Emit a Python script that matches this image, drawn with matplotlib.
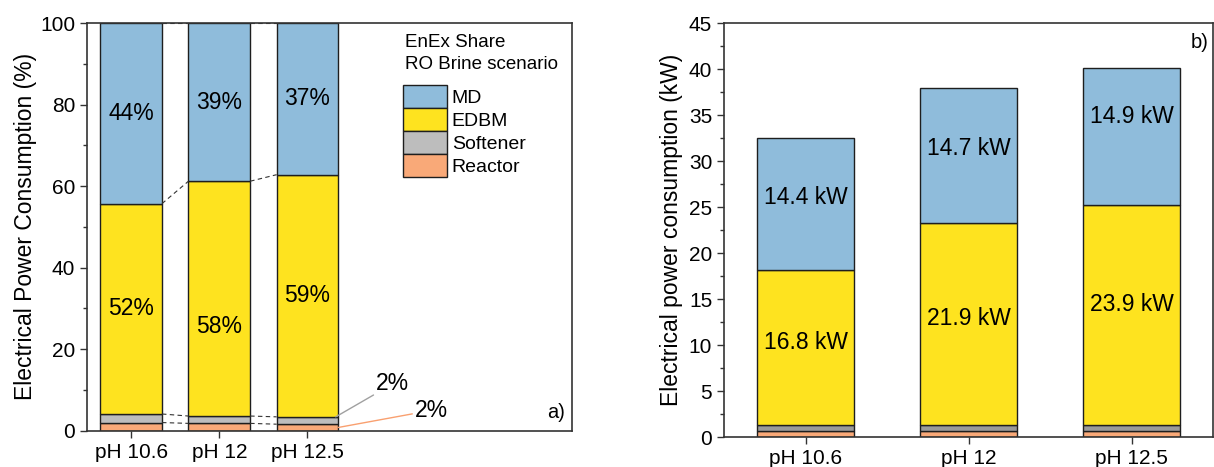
import matplotlib.pyplot as plt
from matplotlib.ticker import MultipleLocator
import numpy as np

plt.rcParams['font.family'] = ['Liberation Sans', 'DejaVu Sans']

categories = ['pH 10.6', 'pH 12', 'pH 12.5']

# EnEx share of each unit (%), RO brine scenario
reactor_pct = [2.0, 1.8, 1.6]
softener_pct = [2.1, 1.8, 1.8]
edbm_pct = [51.6, 57.6, 59.4]
md_pct = [44.3, 38.8, 37.2]

# absolute electrical power (kW)
reactor_kw = [0.65, 0.65, 0.65]
softener_kw = [0.7, 0.7, 0.7]
edbm_kw = [16.8, 21.9, 23.9]
md_kw = [14.4, 14.7, 14.9]

names = ['Reactor', 'Softener', 'EDBM', 'MD']
colors = ['#f9a978', '#bdbdbd', '#fee31f', '#8fbcdb']
colors_kw = ['#f9a978', '#9b9b9b', '#fee31f', '#8fbcdb']
edge = '#1e1e1e'
spine_col = '#333333'

fig = plt.figure(figsize=(12.14, 4.67), dpi=100)
ax1 = fig.add_axes([0.0717, 0.0777, 0.3995, 0.873])
ax2 = fig.add_axes([0.5964, 0.0642, 0.4028, 0.8865])

for ax in (ax1, ax2):
    for s in ax.spines.values():
        s.set_color(spine_col)
        s.set_linewidth(1.2)
    ax.tick_params(axis='both', which='major', direction='out', length=5,
                   width=1, color=spine_col, labelsize=15)
    ax.tick_params(axis='y', which='minor', direction='out', length=3,
                   width=1, color=spine_col)
    ax.tick_params(axis='x', which='minor', bottom=False)

# --- a) share plot ---
x1 = np.arange(len(categories))
w1 = 0.70
layers = [reactor_pct, softener_pct, edbm_pct, md_pct]
bottom = np.zeros(len(categories))
tops = []
handles = []
for vals, c, n in zip(layers, colors, names):
    b = ax1.bar(x1, vals, w1, bottom=bottom, color=c, edgecolor=edge,
                linewidth=1, label=n)
    handles.append(b)
    bottom = bottom + np.array(vals)
    tops.append(bottom.copy())

# dashed connectors between neighbouring bars
for t in tops:
    for i in range(len(categories) - 1):
        ax1.plot([x1[i] + w1 / 2, x1[i + 1] - w1 / 2], [t[i], t[i + 1]],
                 ls=(0, (4, 3)), color='#333333', lw=0.8)

edbm_dy = [0, -6.8, 0]
for i in range(len(categories)):
    ax1.text(x1[i], tops[1][i] + edbm_pct[i] / 2 + edbm_dy[i],
             f'{edbm_pct[i]:.0f}%', ha='center', va='center', fontsize=16.5)
    ax1.text(x1[i], tops[2][i] + md_pct[i] / 2, f'{md_pct[i]:.0f}%',
             ha='center', va='center', fontsize=16.5)

last = len(categories) - 1
ax1.annotate(f'{softener_pct[last]:.0f}%',
             xy=(x1[last] + w1 / 2 - 0.03, tops[1][last]),
             xytext=(2.78, 11.5), fontsize=16.5, va='center', ha='left',
             arrowprops=dict(arrowstyle='-', color='#a0a0a0', lw=1,
                             shrinkA=0, shrinkB=0))
ax1.annotate(f'{reactor_pct[last]:.0f}%',
             xy=(x1[last] + w1 / 2, reactor_pct[last] / 2),
             xytext=(3.22, 5.0), fontsize=16.5, va='center', ha='left',
             arrowprops=dict(arrowstyle='-', color='#f9a070', lw=1,
                             shrinkA=0, shrinkB=0))

ax1.set_xlim(-0.5, 5.0)
ax1.set_ylim(0, 100)
ax1.set_xticks(x1)
ax1.set_xticklabels(categories)
ax1.yaxis.set_major_locator(MultipleLocator(20))
ax1.yaxis.set_minor_locator(MultipleLocator(10))
ax1.set_ylabel('Electrical Power Consumption (%)', fontsize=16.5, labelpad=2)
ax1.text(0.985, 0.045, 'a)', transform=ax1.transAxes, ha='right',
         va='center', fontsize=14.5)

# legend heading and entries
ax1.text(0.656, 0.972, 'EnEx Share\nRO Brine scenario', transform=ax1.transAxes,
         ha='left', va='top', fontsize=13.5, linespacing=1.35)
ax1.legend(handles[::-1], names[::-1], loc='upper left',
           bbox_to_anchor=(0.652, 0.848), frameon=False, fontsize=14,
           borderpad=0, borderaxespad=0, handlelength=2.25, handleheight=1.45,
           labelspacing=0.0, handletextpad=0.25)

# --- b) absolute power plot ---
x2 = np.arange(len(categories))
w2 = 0.60
layers_kw = [reactor_kw, softener_kw, edbm_kw, md_kw]
bottom = np.zeros(len(categories))
tops_kw = []
for vals, c in zip(layers_kw, colors_kw):
    ax2.bar(x2, vals, w2, bottom=bottom, color=c, edgecolor=edge, linewidth=1)
    bottom = bottom + np.array(vals)
    tops_kw.append(bottom.copy())

edbm_kw_dy = [0.5, 0.6, 1.1]
md_kw_dy = [0.7, 0.8, 2.1]
for i in range(len(categories)):
    ax2.text(x2[i], tops_kw[1][i] + edbm_kw[i] / 2 + edbm_kw_dy[i],
             f'{edbm_kw[i]:.1f} kW', ha='center', va='center', fontsize=16.5)
    ax2.text(x2[i], tops_kw[2][i] + md_kw[i] / 2 + md_kw_dy[i],
             f'{md_kw[i]:.1f} kW', ha='center', va='center', fontsize=16.5)

ax2.set_xlim(-0.5, 2.5)
ax2.set_ylim(0, 45)
ax2.set_xticks(x2)
ax2.set_xticklabels(categories)
ax2.yaxis.set_major_locator(MultipleLocator(5))
ax2.yaxis.set_minor_locator(MultipleLocator(2.5))
ax2.set_ylabel('Electrical power consumption (kW)', fontsize=16.5, labelpad=4)
ax2.text(0.99, 0.952, 'b)', transform=ax2.transAxes, ha='right',
         va='center', fontsize=14.5)

fig.savefig('out.png', dpi=100)
